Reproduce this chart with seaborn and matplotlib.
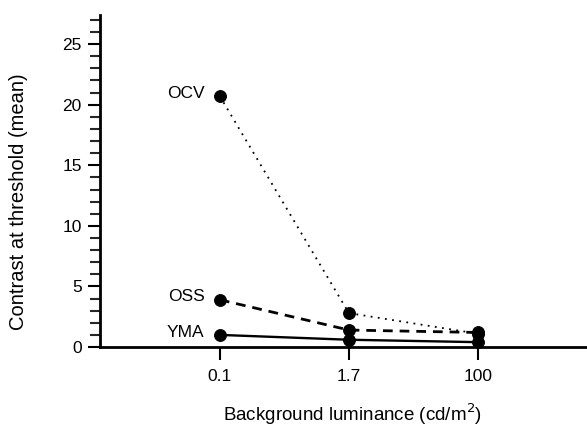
import matplotlib
matplotlib.use("Agg")
import matplotlib.pyplot as plt
from matplotlib.ticker import MultipleLocator
import numpy as np
import pandas as pd
import seaborn as sns

# ---- data ----
luminance = ["0.1", "1.7", "100"]
subjects = ["OCV", "OSS", "YMA"]
ocv = [20.7, 2.8, 1.1]
oss = [3.9, 1.4, 1.2]
yma = [1.0, 0.6, 0.4]
line_styles = {"OCV": (0, (1, 3)), "OSS": (0, (3.5, 2.5)), "YMA": "-"}

values = {"OCV": ocv, "OSS": oss, "YMA": yma}
df = pd.DataFrame(
    [(s, lum, v) for s in subjects for lum, v in zip(luminance, values[s])],
    columns=["subject", "luminance", "contrast"],
)

sns.set_theme(style="white")
plt.rcParams["font.family"] = ["Liberation Sans", "DejaVu Sans"]

fig = plt.figure(figsize=(5.87, 4.30), dpi=100)
ax = fig.add_axes([0.170, 0.193, 0.830, 0.772])

for s in subjects:
    sub = df[df["subject"] == s]
    lw = 1.3 if s == "OCV" else (2.0 if s == "OSS" else 1.7)
    sns.lineplot(data=sub, x="luminance", y="contrast", ax=ax, color="black",
                 linestyle=line_styles[s], linewidth=lw, marker="o",
                 markersize=8.5, markeredgecolor="black", markerfacecolor="black",
                 sort=False, legend=False, clip_on=False, zorder=3)
    first = sub.iloc[0]
    ax.annotate(s, xy=(0, first["contrast"]), xytext=(-11, 2),
                textcoords="offset points", ha="right", va="center",
                fontsize=12.5, color="black")

ax.set_xlim(-0.93, 2.845)
ax.set_ylim(0, 27.4)

ax.yaxis.set_major_locator(MultipleLocator(5))
ax.yaxis.set_minor_locator(MultipleLocator(1))
ax.tick_params(axis="y", which="major", direction="out", length=9, width=1.5,
               labelsize=12.5, left=True, pad=4, colors="black")
ax.tick_params(axis="y", which="minor", direction="out", length=7, width=1.5,
               left=True)
ax.tick_params(axis="x", which="major", direction="out", length=9, width=1.5,
               labelsize=12.5, bottom=True, pad=7, colors="black")

for side in ["top", "right"]:
    ax.spines[side].set_visible(False)
for side in ["left", "bottom"]:
    ax.spines[side].set_linewidth(2)
    ax.spines[side].set_color("black")

ax.set_xlabel("Background luminance (cd/m$^2$)", fontsize=13.5, color="black")
ax.xaxis.set_label_coords(0.518, -0.165)
ax.set_ylabel("Contrast at threshold (mean)", fontsize=14.5, color="black")
ax.yaxis.set_label_coords(-0.148, 0.437)

fig.savefig("out.png", dpi=100)
